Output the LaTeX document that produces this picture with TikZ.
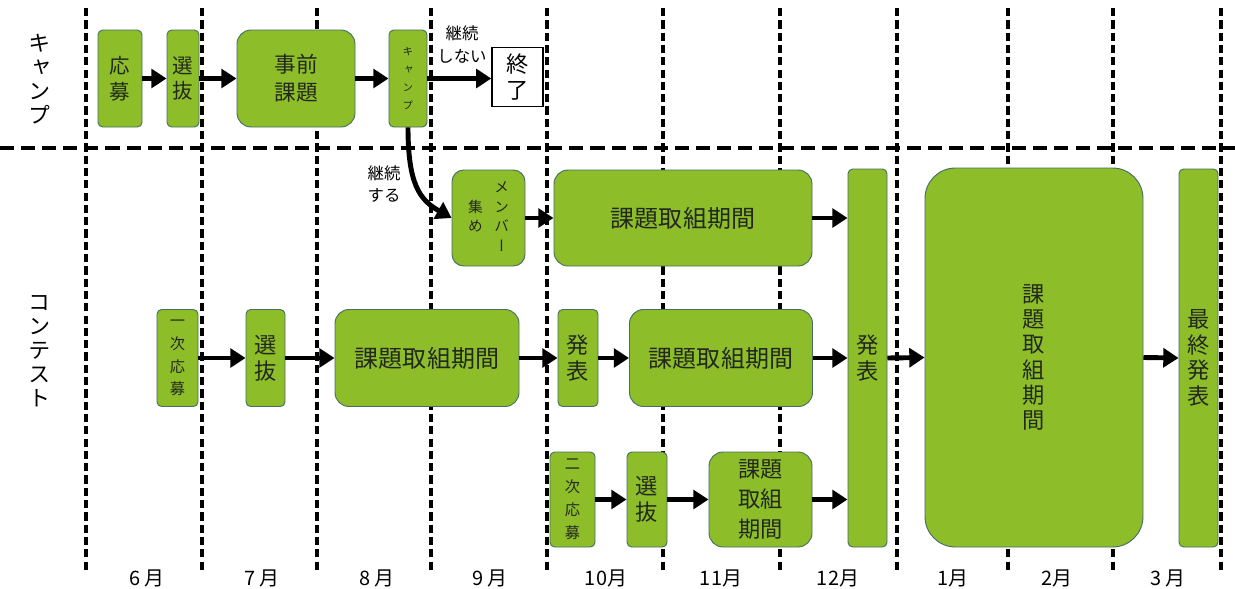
\documentclass[tikz,border=0pt]{standalone}
\usepackage{fontspec}
\setmainfont{Noto Sans CJK JP}
\newfontfamily\jpv[RawFeature=+vert]{Noto Sans CJK JP}
\usetikzlibrary{arrows.meta}
\definecolor{gr}{RGB}{141,190,42}
\definecolor{bd}{RGB}{70,110,100}
\definecolor{tx}{RGB}{35,40,30}
\begin{document}
\begin{tikzpicture}[x=0.03cm,y=-0.03cm,
  gbox/.style={draw=bd,fill=gr,line width=0.8pt,inner sep=0pt,text=tx,rounded corners=4pt,align=center},
  wbox/.style={draw=black,fill=white,line width=1.2pt,inner sep=0pt,text=black,align=center},
  wh/.style 2 args={minimum width=#1*0.03cm,minimum height=#2*0.03cm},
  vt/.style={font=\jpv\fontsize{19}{22}\selectfont},
  vtc/.style={font=\jpv\fontsize{17.5}{22}\selectfont},
  vts/.style={font=\jpv\fontsize{13}{19.5}\selectfont},
  vtxs/.style={font=\jpv\fontsize{9}{15.5}\selectfont},
  ht/.style={font=\fontsize{20.5}{25}\selectfont},
  lbl/.style={font=\fontsize{14}{19}\selectfont,align=center,inner sep=0pt},
  side/.style={font=\jpv\fontsize{19}{20.5}\selectfont,align=center,inner sep=0pt},
  mon/.style={font=\fontsize{17}{20}\selectfont,inner sep=0pt},
  arr/.style={draw=black,line width=4.2pt,-{Triangle[length=13pt,width=16pt]}},
  vdash/.style={line width=2.8pt,dash pattern=on 7pt off 3.5pt},
  hdash/.style={line width=2.8pt,dash pattern=on 12pt off 6pt}]
\useasboundingbox (0,0) rectangle (1235,588);
\fill[white] (0,0) rectangle (1235,588);
% grid lines
\foreach \x in {86,202,317,431,547,663,780,897,1008,1113,1221}
  \draw[vdash] (\x,8) -- (\x,572);
\draw[hdash] (0,148) -- (1235,148);
% side labels
\node[side] (lcamp) at (40,79) {キ\\ャ\\ン\\プ};
\node[side] (lcont) at (40,351) {コ\\ン\\テ\\ス\\ト};
% camp row
\node[gbox,wh={44}{97},vtc] (c1) at (120,78.5) {応\\募};
\node[gbox,wh={32}{97},vtc] (c2) at (183,78.5) {選\\抜};
\node[gbox,wh={118}{97},rounded corners=12pt,font=\fontsize{18.5}{24}\selectfont] (c3) at (296,78.5) {事前\\課題};
\node[gbox,wh={38}{97},vtxs] (c4) at (408,78.5) {キ\\ャ\\ン\\プ};
\node[wbox,wh={51}{59},font=\jpv\fontsize{19}{22}\selectfont] (end) at (517.5,77) {終\\了};
\node[lbl] (lno) at (462,44.5) {継続\\しない};
\node[lbl] (lyes) at (384,184) {継続\\する};
% contest top row
\node[gbox,wh={73}{96},rounded corners=10pt,font=\jpv\fontsize{12.5}{17}\selectfont] (m1) at (488.5,218)
  {\begin{tabular}[c]{@{}c@{}}集\\め\end{tabular}\hspace{10pt}\begin{tabular}[c]{@{}c@{}}メ\\ン\\バ\\ー\end{tabular}};
\node[gbox,wh={258}{96},rounded corners=12pt,ht] (t1) at (683,218) {課題取組期間};
\node[gbox,wh={39}{378},vt] (P1) at (867.5,358) {発\\表};
\node[gbox,wh={218}{379},rounded corners=26pt,font=\jpv\fontsize{19}{21.5}\selectfont] (B) at (1034,357.5) {課\\題\\取\\組\\期\\間};
\node[gbox,wh={39}{378},vt] (F) at (1198.5,358) {最\\終\\発\\表};
% contest middle row
\node[gbox,wh={41}{97},vts] (a1) at (177.5,358) {一\\次\\応\\募};
\node[gbox,wh={39}{97},vt] (a2) at (265.5,358) {選\\抜};
\node[gbox,wh={184}{97},rounded corners=12pt,ht] (a3) at (427,358) {課題取組期間};
\node[gbox,wh={40}{97},vt] (a4) at (578,358) {発\\表};
\node[gbox,wh={183}{97},rounded corners=12pt,ht] (a5) at (721,358) {課題取組期間};
% contest bottom row
\node[gbox,wh={45}{95},vts] (b1) at (572.5,499.5) {二\\次\\応\\募};
\node[gbox,wh={40}{95},vt] (b2) at (647,499.5) {選\\抜};
\node[gbox,wh={103}{95},rounded corners=12pt,font=\fontsize{19}{25.6}\selectfont] (b3) at (760.5,499.5) {課題\\取組\\期間};
% months
\node[mon] (m6) at (147,578) {6 月};
\node[mon] (m7) at (262,578) {7 月};
\node[mon] (m8) at (377,578) {8 月};
\node[mon] (m9) at (490,578) {9 月};
\node[mon] (m10) at (606,578) {10月};
\node[mon] (m11) at (721,578) {11月};
\node[mon] (m12) at (838,578) {12月};
\node[mon] (m1m) at (953,578) {1月};
\node[mon] (m2m) at (1057,578) {2月};
\node[mon] (m3m) at (1168,578) {3 月};
% arrows
\draw[arr] (c1.east) -- (c2.west);
\draw[arr] (c2.east) -- (c3.west);
\draw[arr] (c3.east) -- (c4.west);
\draw[arr] (c4.east) -- (c4.east -| end.west);
\draw[arr] (c4.south) .. controls (408,185) and (420,200) .. (m1.west);
\draw[arr] (m1.east) -- (t1.west);
\draw[arr] (t1.east) -- (t1.east -| P1.west);
\draw[arr] (a1.east) -- (a2.west);
\draw[arr] (a2.east) -- (a3.west);
\draw[arr] (a3.east) -- (a4.west);
\draw[arr] (a4.east) -- (a5.west);
\draw[arr] (a5.east) -- (a5.east -| P1.west);
\draw[arr] (b1.east) -- (b2.west);
\draw[arr] (b2.east) -- (b3.west);
\draw[arr] (b3.east) -- (b3.east -| P1.west);
\draw[arr] (P1.east) -- (B.west);
\draw[arr] (B.east) -- (F.west);
\end{tikzpicture}
\end{document}
